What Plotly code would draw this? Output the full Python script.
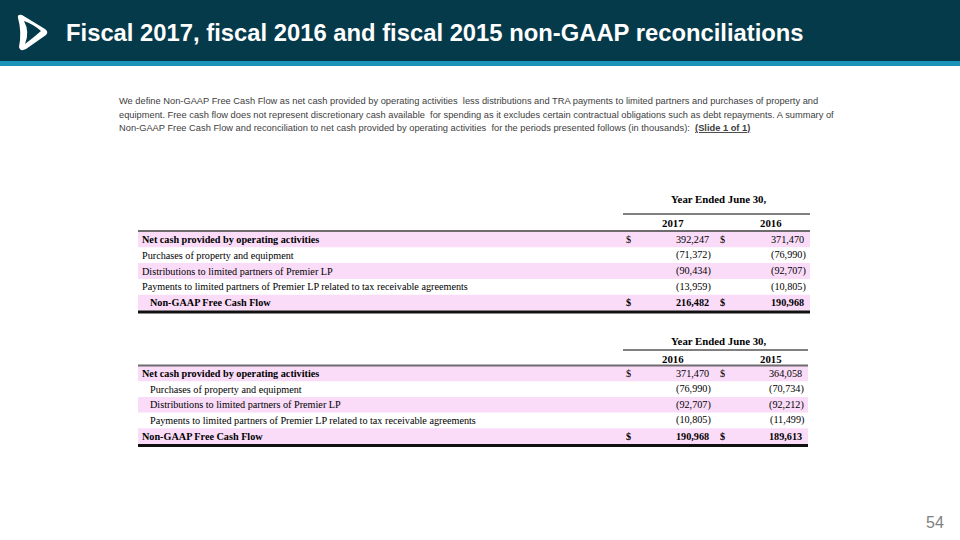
import plotly.graph_objects as go

# ---- data ----
title = "Fiscal 2017, fiscal 2016 and fiscal 2015 non-GAAP reconciliations"
body_lines = [
    "We define Non-GAAP Free Cash Flow as net cash provided by operating activities  less distributions and TRA payments to limited partners and purchases of property and",
    "equipment. Free cash flow does not represent discretionary cash available  for spending as it excludes certain contractual obligations such as debt repayments. A summary of",
    "Non-GAAP Free Cash Flow and reconciliation to net cash provided by operating activities  for the periods presented follows (in thousands):  <b><u>(Slide 1 of 1)</u></b>",
]
row_labels = [
    "Net cash provided by operating activities",
    "Purchases of property and equipment",
    "Distributions to limited partners of Premier LP",
    "Payments to limited partners of Premier LP related to tax receivable agreements",
    "Non-GAAP Free Cash Flow",
]
header_text = "Year Ended June 30,"
t1_years = ["2017", "2016"]
t1_col1 = [392247, -71372, -90434, -13959, 216482]
t1_col2 = [371470, -76990, -92707, -10805, 190968]
t2_years = ["2016", "2015"]
t2_col1 = [371470, -76990, -92707, -10805, 190968]
t2_col2 = [364058, -70734, -92212, -11499, 189613]
page_number = "54"

# ---- styling ----
DARK = "#053a4b"
STRIP = "#1a93b9"
PINK = "#fadcf8"
BODY = "#404040"
SERIF = "Liberation Serif, Times New Roman, serif"
SANS = "Liberation Sans, Arial, sans-serif"
TFS = 10.2

fig = go.Figure()
shapes = []
ann = []

def add_text(x, y, text, size, color="black", family=SERIF, xanchor="left", yanchor="middle"):
    ann.append(dict(x=x, y=y, xref="x", yref="y", text=text, showarrow=False,
                    xanchor=xanchor, yanchor=yanchor,
                    font=dict(size=size, color=color, family=family)))

def hline(x0, x1, y, color="black", width=1):
    shapes.append(dict(type="line", xref="x", yref="y", x0=x0, x1=x1, y0=y, y1=y,
                       line=dict(color=color, width=width)))

def rect(x0, y0, x1, y1, color):
    shapes.append(dict(type="rect", xref="x", yref="y", x0=x0, x1=x1, y0=y0, y1=y1,
                       fillcolor=color, line=dict(width=0), layer="below"))

# header band
rect(0, 0, 960, 61, DARK)
rect(0, 61, 960, 66, STRIP)
# logo
shapes.append(dict(type="path", xref="x", yref="y",
                   path="M 18,18 Q 17,14 22,15 L 45,29 Q 49,32 46,35 L 26,49 Q 20,52 19,47 Q 22,32 18,18 Z",
                   fillcolor="white", line=dict(width=0), layer="above"))
shapes.append(dict(type="path", xref="x", yref="y",
                   path="M 24,21 Q 33,24 41,31 Q 33,38 25,44 Q 30,32 24,21 Z",
                   fillcolor=DARK, line=dict(width=0), layer="above"))
add_text(64, 32, "<b>" + title + "</b>", 23.8, color="white", family=SANS)

# body text
for i, line in enumerate(body_lines):
    add_text(117, 101 + i * 13.7, line, 9.3, color=BODY, family=SANS)

# page number
add_text(946, 522, page_number, 16, color="#7f7f7f", family=SANS, xanchor="right")


def fmt(v):
    return f"{v:,}" if v >= 0 else f"({-v:,})"


def draw_table(top, years, c1, c2, bold_rows, indent_rows, bold_values, x_right,
               head_y, line1_y, years_y, line2_y, pitch):
    x_left = 138
    add_text(718, head_y, "<b>" + header_text + "</b>", 10.8, xanchor="center")
    hline(623, x_right, line1_y, "black", 1)
    add_text(673, years_y, "<b>" + years[0] + "</b>", 10.8, xanchor="center")
    add_text(771, years_y, "<b>" + years[1] + "</b>", 10.8, xanchor="center")
    for i, lab in enumerate(row_labels):
        yc = top + pitch * (i + 0.5)
        if i % 2 == 0:
            rect(x_left, top + pitch * i, x_right, top + pitch * (i + 1), PINK)
        b = i in bold_rows
        txt = ("<b>" + lab + "</b>") if b else lab
        add_text(x_left + (10 if i in indent_rows else 2), yc, txt, TFS)
        vb = i in bold_values
        for v, xr in ((c1[i], 711), (c2[i], x_right - 4)):
            s = fmt(v)
            s = ("<b>" + s + "</b>") if vb else s
            add_text(xr + (2 if v < 0 else 0), yc, s, TFS, xanchor="right")
        if i in (0, 4):
            add_text(624, yc, "<b>$</b>" if vb else "$", TFS)
            add_text(718, yc, "<b>$</b>" if vb else "$", TFS)
    hline(x_left, x_right, line2_y, "#6e6a6e", 2)
    bottom = top + pitch * 5
    hline(x_left, x_right, bottom + 1.5, "#111111", 3)


draw_table(231.5, t1_years, t1_col1, t1_col2, bold_rows={0, 4}, indent_rows={4},
           bold_values={4}, x_right=810, head_y=199, line1_y=214, years_y=222.5,
           line2_y=231, pitch=15.8)
draw_table(365.5, t2_years, t2_col1, t2_col2, bold_rows={0, 4}, indent_rows={1, 2, 3},
           bold_values={4}, x_right=808, head_y=341, line1_y=350, years_y=358.5,
           line2_y=365.5, pitch=15.7)

fig.update_layout(
    width=960, height=540,
    margin=dict(l=0, r=0, t=0, b=0),
    paper_bgcolor="white", plot_bgcolor="white",
    xaxis=dict(range=[0, 960], visible=False, fixedrange=True),
    yaxis=dict(range=[540, 0], visible=False, fixedrange=True),
    shapes=shapes, annotations=ann, showlegend=False,
)
fig.write_html("out.html", config={"displayModeBar": False},
               post_script="document.body.style.margin='0';document.body.style.overflow='hidden';")
